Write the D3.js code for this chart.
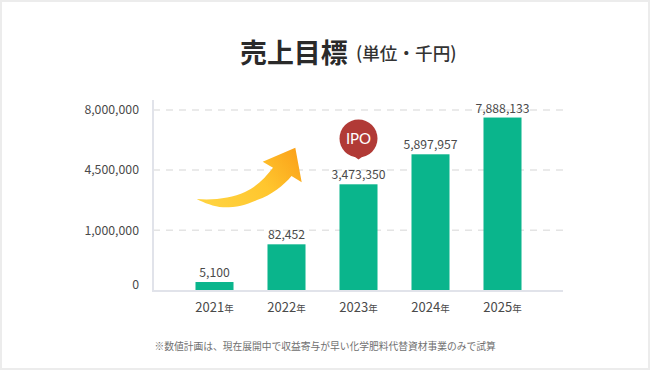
<!DOCTYPE html>
<html lang="ja"><head><meta charset="utf-8">
<script src="https://cdn.jsdelivr.net/npm/d3@7"></script>
<style>
html,body{margin:0;padding:0;background:#fff}
svg{display:block}
text{font-family:"Noto Sans CJK JP","Noto Sans",sans-serif}
</style></head><body>
<svg id="c" width="650" height="370"></svg>
<script>
const years = ["2021","2022","2023","2024","2025"];
const valueLabels = ["5,100","82,452","3,473,350","5,897,957","7,888,133"];
// Bar tops as read against the (uneven) printed axis
const barLevels = [148000,769000,3670000,5416000,7560000];
const tickValues = [0,1000000,4500000,8000000];
const tickLabels = ["0","1,000,000","4,500,000","8,000,000"];
const titleMain = "売上目標";
const titleSub = "(単位・千円)";
const note = "※数値計画は、現在展開中で収益寄与が早い化学肥料代替資材事業のみで試算";
const ipoYear = "2023";

const svg = d3.select("#c");
const W = 650, H = 370;
const plot = {left:153, right:563, top:100, bottom:291};
const ink = "#4a4a4a";

svg.append("rect").attr("x",1).attr("y",1).attr("width",W-2).attr("height",H-2)
  .attr("fill","#fff").attr("stroke","#ececec").attr("stroke-width",2);

const x = d3.scaleBand().domain(years).range([178.5,538.5]).paddingInner(0.472).paddingOuter(0.236);
const y = d3.scaleLinear().domain(tickValues).range([291,230.3,170,110]);

const defs = svg.append("defs");
const g = defs.append("linearGradient").attr("id","arrowGrad")
  .attr("gradientUnits","userSpaceOnUse").attr("x1",215).attr("y1",210).attr("x2",295).attr("y2",150);
g.append("stop").attr("offset",0).attr("stop-color","#ffd23f");
g.append("stop").attr("offset",0.55).attr("stop-color","#ffc62e");
g.append("stop").attr("offset",1).attr("stop-color","#fba31a");

svg.append("g").selectAll("line").data(tickValues.slice(1)).join("line")
  .attr("x1",plot.left).attr("x2",plot.right)
  .attr("y1",d=>y(d)).attr("y2",d=>y(d))
  .attr("stroke","#e4e4e4").attr("stroke-width",1.5).attr("stroke-dasharray","7 6");

const yAxis = svg.append("g").attr("transform",`translate(${plot.left},0)`)
  .call(d3.axisLeft(y).tickValues(tickValues).tickFormat((d,i)=>tickLabels[i]).tickSize(0).tickPadding(14));
yAxis.select(".domain").remove();
yAxis.selectAll("text").attr("font-size",12.3).attr("fill",ink).attr("font-weight",400)
  .style("font-family",'"Noto Sans CJK JP","Noto Sans",sans-serif');
yAxis.selectAll(".tick").filter(d=>d===0).select("text").attr("dy","-0.2em");
svg.append("line").attr("x1",plot.left).attr("x2",plot.left).attr("y1",plot.top).attr("y2",plot.bottom+1)
  .attr("stroke","#e1e3ea").attr("stroke-width",2);

svg.append("g").selectAll("rect").data(years).join("rect")
  .attr("x",d=>x(d)).attr("width",x.bandwidth())
  .attr("y",(d,i)=>y(barLevels[i]))
  .attr("height",(d,i)=>y(0)-y(barLevels[i]))
  .attr("fill","#0ab58c");

const xAxis = svg.append("g").attr("transform",`translate(0,${plot.bottom})`)
  .call(d3.axisBottom(x).tickSize(0).tickPadding(11.5).tickFormat(d=>d));
xAxis.select(".domain").remove();
xAxis.selectAll("text").attr("font-size",13).attr("fill",ink).attr("font-weight",400)
  .style("font-family",'"Noto Sans CJK JP","Noto Sans",sans-serif')
  .append("tspan").attr("font-size",9.5).text("年");
svg.append("line").attr("x1",plot.left-1).attr("x2",plot.right).attr("y1",plot.bottom).attr("y2",plot.bottom)
  .attr("stroke","#e1e3ea").attr("stroke-width",2);

svg.append("g").selectAll("text").data(years).join("text")
  .attr("x",d=>x(d)+x.bandwidth()/2)
  .attr("y",(d,i)=>y(barLevels[i])-5)
  .attr("text-anchor","middle").attr("font-size",12.2).attr("font-weight",400).attr("fill",ink)
  .text((d,i)=>valueLabels[i]);

svg.append("path")
  .attr("d","M196.7,199 C214,200.5 232,198 245,192 C256,187 265,178 273,167.7 L262.7,161.7 L295.3,147.7 L301.7,182.3 L291.5,176 C284,185 272,195 257,200 C246,205 236,207.5 223,207.3 C214,206.5 204,203 196.7,199 Z")
  .attr("fill","url(#arrowGrad)");

const ipoX = x(ipoYear)+x.bandwidth()/2;
const badge = svg.append("g").attr("transform",`translate(${ipoX},138.5)`);
badge.append("circle").attr("r",19).attr("fill","#b13a36");
badge.append("path").attr("d","M-5.5,17 L0,21 L5.5,17 Z").attr("fill","#b13a36");
badge.append("text").attr("y",5.5).attr("text-anchor","middle").attr("fill","#fff")
  .attr("font-size",15).attr("font-weight",400).style("font-family","Lato, sans-serif").text("IPO");

svg.append("text").attr("x",240).attr("y",63).attr("font-size",26.9).attr("font-weight",700).attr("fill","#2a2a2a").text(titleMain);
svg.append("text").attr("x",356).attr("y",59.5).attr("font-size",17.6).attr("font-weight",500).attr("fill","#333").text(titleSub);

svg.append("text").attr("x",154.5).attr("y",349.5).attr("font-size",9.75).attr("font-weight",400).attr("fill","#707070").text(note);
</script>
</body></html>
